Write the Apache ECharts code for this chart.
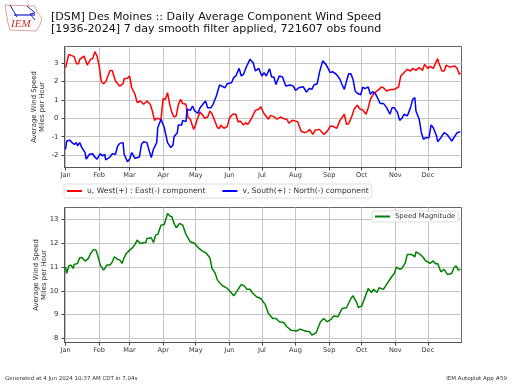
<!DOCTYPE html>
<html><head><meta charset="utf-8">
<style>html,body{margin:0;padding:0;background:#fff}#c{width:512px;height:384px}</style>
<script src="https://cdn.jsdelivr.net/npm/echarts@6/dist/echarts.min.js"></script>
</head><body><div id="c"></div>
<script>
const monthNames=['Jan','Feb','Mar','Apr','May','Jun','Jul','Aug','Sep','Oct','Nov','Dec'];
const monthDays=[1,32,60,91,121,152,182,213,244,274,305,335];
const topTicks=[-2,-1,0,1,2,3];
const bottomTicks=[8,9,10,11,12,13];

const uDays=[1,2,4,6,9,11,13,14,18,21,24,26,28,30,32,34,36,38,42,44,47,51,54,55,58,60,62,65,67,70,73,76,79,81,83,85,89,90,91,93,95,97,99,101,103,105,107,109,112,114,116,119,121,122,125,128,129,132,134,136,138,141,143,144,147,150,152,155,158,160,162,165,167,169,172,176,179,181,184,188,190,193,196,199,202,205,207,210,215,218,221,224,226,229,231,235,239,242,245,248,251,254,258,260,262,265,267,270,272,275,278,280,282,285,290,292,294,297,299,302,304,308,310,313,316,319,321,324,327,330,332,335,337,340,344,345,348,350,352,355,356,360,362,364,365];
const uValues=[2.75,2.78,3.47,3.42,3.35,2.97,2.97,3.2,3.38,2.89,3.2,3.25,3.62,3.38,2.84,1.99,1.88,1.99,2.6,2.6,2.03,1.74,1.88,2.15,2.17,2.3,1.66,1.3,.85,.94,.76,.94,.76,.4,-.11,0,-.05,.58,1.08,1.03,1.39,.76,.31,.07,.13,.76,1.03,.8,.76,.04,-.05,-.6,-.33,-.11,.34,.13,0,.07,.4,.25,-.05,-.51,-.54,-.36,-.54,-.45,0,.22,.22,-.2,-.14,-.36,-.24,-.33,-.05,.43,.49,.63,.25,-.05,.16,.09,-.05,.07,-.02,-.05,-.27,-.11,-.18,-.69,-.78,-.72,-.6,-.87,-.65,-.6,-.87,-.72,-.42,-.45,-.54,-.11,.22,-.33,-.29,.13,.49,.72,.52,.45,.22,.58,1.03,1.34,1.57,1.7,1.66,1.48,1.54,1.57,1.57,1.7,2.3,2.48,2.66,2.57,2.71,2.6,2.75,2.6,2.93,2.71,2.82,2.71,3.24,3.02,2.57,2.57,2.89,2.78,2.75,2.84,2.71,2.39,2.46];

const vDays=[1,2,5,7,9,11,12,14,16,19,20,23,26,27,30,33,35,37,38,42,44,47,49,51,54,55,58,60,62,65,66,69,71,73,76,78,80,82,85,86,89,90,92,95,98,100,101,104,105,108,109,112,113,116,118,120,123,125,127,130,132,135,137,140,143,145,148,150,154,156,158,161,163,165,168,171,174,176,179,182,184,186,189,191,193,195,198,201,204,208,211,213,216,220,223,226,228,230,233,235,238,241,243,245,247,248,250,252,254,256,258,260,262,264,266,268,270,273,275,277,280,282,284,287,290,291,294,297,300,302,304,307,309,311,313,316,319,321,323,324,327,329,331,333,336,338,340,343,344,347,350,353,357,362,365];
const vValues=[-1.68,-1.23,-1.19,-1.32,-1.41,-1.32,-1.5,-1.32,-1.59,-1.86,-2.22,-1.95,-1.92,-2.04,-2.22,-1.92,-2.04,-1.95,-2.26,-2.1,-1.92,-1.95,-1.5,-1.36,-1.32,-1.95,-2.35,-2.23,-1.86,-2.17,-2.23,-2.1,-1.41,-1.27,-1.32,-1.74,-2.13,-1.68,-1.32,-.51,-.05,0,-.51,-1.32,-1.59,-1.45,-1,-.78,-.36,-.36,-.11,-.18,.49,.43,.67,.4,.27,.58,.72,.94,.58,.58,.76,1.21,1.81,1.75,1.66,1.88,1.93,2.21,2.3,2.71,2.3,2.39,2.84,3.2,3.02,2.57,2.71,2.3,2.48,2.3,2.69,2.24,2.24,1.84,2.3,2.24,1.75,1.81,1.75,1.52,1.66,1.72,1.43,1.63,1.57,1.81,1.88,2.48,3.12,2.93,2.71,2.48,2.53,2.6,2.42,2.29,2.11,1.81,1.57,2.03,2.42,2.42,2.11,1.48,1.36,1.27,1.7,1.61,1.7,1.3,1.45,1.3,.94,.81,.81,.58,.22,.58,.58,.31,-.11,0,.22,.13,.58,1.03,1.12,.4,-.05,-.78,-1.14,-1.05,-1.05,-.36,-.51,-.96,-1.27,-1.05,-.78,-.9,-1.23,-.78,-.72];

const speedDays=[1,2,4,6,8,9,12,14,16,19,22,24,27,29,31,33,34,36,39,42,44,46,49,51,53,55,57,60,62,65,67,70,73,75,76,80,82,84,86,89,92,95,97,99,101,103,106,109,112,116,120,124,127,131,134,136,139,141,145,150,153,156,159,163,166,168,171,173,177,181,185,188,192,195,198,202,205,209,214,217,222,226,228,232,236,239,242,246,248,252,256,260,264,266,269,271,274,276,280,283,285,288,290,294,297,301,304,306,309,311,314,316,320,323,324,328,331,333,335,337,340,342,344,347,350,353,357,359,361,363,365];
const speedValues=[11.01,10.73,11.05,11.08,10.94,11.11,11.15,11.39,11.4,11.25,11.36,11.57,11.74,11.71,11.43,11.08,11.01,10.87,11.08,11.08,11.22,11.43,11.32,11.29,11.15,11.39,11.57,11.71,11.78,11.95,12.13,11.99,12.02,12.03,12.2,12.23,12.03,12.34,12.37,12.76,12.79,13.25,13.15,13.11,12.83,12.65,12.83,12.76,12.37,12.06,11.99,11.78,11.68,11.57,11.39,10.94,10.73,10.45,10.24,10.1,9.96,9.79,9.99,10.27,10.2,10.07,10.07,9.93,9.75,9.68,9.43,9.05,8.84,8.84,8.7,8.67,8.49,8.34,8.31,8.39,8.31,8.28,8.14,8.24,8.7,8.84,8.7,8.81,8.94,8.91,9.26,9.29,9.68,9.79,9.54,9.3,9.36,9.61,10.1,9.93,10.07,9.93,10.13,10.06,10.27,10.55,10.73,11,10.91,10.94,11.15,11.53,11.53,11.43,11.64,11.53,11.39,11.25,11.22,11.15,11.26,11.14,11.15,10.8,10.9,10.69,10.73,10.97,11.05,10.87,10.91];

const font='"DejaVu Sans"';
const cats=[];for(let d=0;d<=366;d++){const m=monthDays.indexOf(d);cats.push(m>=0?monthNames[m]:'');}
const isTick=i=>monthDays.includes(i);
const pair=(a,b)=>a.map((d,i)=>[d,b[i]]);
function xAxis(gi){return{type:'category',gridIndex:gi,data:cats,boundaryGap:false,
  axisLine:{show:true,onZero:false,lineStyle:{color:'#555',width:1}},
  axisTick:{show:true,interval:isTick,length:3,lineStyle:{color:'#444',width:1}},
  axisLabel:{show:true,interval:isTick,fontFamily:font,fontSize:6.6,color:'#333',margin:4,hideOverlap:false},
  splitLine:{show:true,interval:isTick,lineStyle:{color:'#c4c4c4',width:1}}};}
function yAxis(gi,min,max,ticks){return{type:'value',gridIndex:gi,min,max,
  name:'Average Wind Speed\nMiles per Hour',nameLocation:'middle',nameGap:gi?16.5:18.5,nameRotate:90,nameMoveOverlap:false,
  nameTextStyle:{fontFamily:font,fontSize:6.9,color:'#333',lineHeight:8},
  axisLine:{show:true,onZero:false,lineStyle:{color:'#555',width:1}},
  axisTick:{show:true,length:3,customValues:ticks,lineStyle:{color:'#444',width:1}},
  axisLabel:{fontFamily:font,fontSize:6.9,color:'#333',margin:6,customValues:ticks},
  splitLine:{show:true,lineStyle:{color:'#c4c4c4',width:1}}};}
const lbox={backgroundColor:'#fff',borderColor:'#ddd',borderWidth:1,borderRadius:2,
  textStyle:{fontFamily:font,fontSize:7.6,color:'#333'},itemWidth:15,itemHeight:2,icon:'rect'};
const option={animation:false,backgroundColor:'#fff',
 title:[
  {text:'[DSM] Des Moines :: Daily Average Component Wind Speed\n[1936-2024] 7 day smooth filter applied, 721607 obs found',left:51,top:11,padding:0,
   textStyle:{fontFamily:font,fontSize:11.1,fontWeight:'normal',color:'#111',lineHeight:12}},
  {text:'Generated at 4 Jun 2024 10:37 AM CDT in 7.04s',left:5,top:376,padding:0,textStyle:{fontFamily:font,fontSize:5.5,fontWeight:'normal',color:'#333'}},
  {text:'IEM Autoplot App #59',right:5,top:376,padding:0,textStyle:{fontFamily:font,fontSize:5.5,fontWeight:'normal',color:'#333'}}
 ],
 grid:[
  {left:64.5,top:46.5,width:397,height:121,show:true,borderColor:'#666',borderWidth:1,backgroundColor:'#fff'},
  {left:64.5,top:207.5,width:397,height:135,show:true,borderColor:'#666',borderWidth:1,backgroundColor:'#fff'}
 ],
 xAxis:[xAxis(0),xAxis(1)],
 yAxis:[yAxis(0,-2.67,3.9,topTicks),yAxis(1,7.83,13.5,bottomTicks)],
 legend:[
  Object.assign({},lbox,{data:['u, West(+) : East(-) component','v, South(+) : North(-) component'],left:64,top:184,padding:[3,3,3,3],itemGap:17}),
  Object.assign({},lbox,{data:['Speed Magnitude'],left:372,top:211,padding:[2,3,2,3],textStyle:{fontFamily:font,fontSize:6.9,color:'#333'}})
 ],
 series:[
  {name:'u, West(+) : East(-) component',type:'line',xAxisIndex:0,yAxisIndex:0,data:pair(uDays,uValues),showSymbol:false,symbol:'none',lineStyle:{color:'#ff0000',width:1.5},itemStyle:{color:'#ff0000'},z:3},
  {name:'v, South(+) : North(-) component',type:'line',xAxisIndex:0,yAxisIndex:0,data:pair(vDays,vValues),showSymbol:false,symbol:'none',lineStyle:{color:'#0000ff',width:1.5},itemStyle:{color:'#0000ff'},z:4},
  {name:'Speed Magnitude',type:'line',xAxisIndex:1,yAxisIndex:1,data:pair(speedDays,speedValues),showSymbol:false,symbol:'none',lineStyle:{color:'#008000',width:1.5},itemStyle:{color:'#008000'},z:3}
 ],
 graphic:[
  {type:'polygon',shape:{points:[[5,5],[35,6],[37,12],[42,18],[40,25],[36,31],[10,30],[8,23]]},style:{fill:'#fff',stroke:'#e0a0a0',lineWidth:1}},
  {type:'polyline',shape:{points:[[10,5],[17,17]]},style:{stroke:'#1a1ac8',fill:'none',lineWidth:1}},
  {type:'polyline',shape:{points:[[14,15],[35,15]]},style:{stroke:'#1a1ac8',fill:'none',lineWidth:1.2}},
  {type:'polyline',shape:{points:[[27,6],[35,13],[30,14],[35,20]]},style:{stroke:'#1a1ac8',fill:'none',lineWidth:1}},
  {type:'text',left:11,top:18.5,style:{text:'IEM',fontFamily:'"Liberation Serif"',fontStyle:'italic',fontSize:11,fill:'#c83030'}}
 ]
};
echarts.init(document.getElementById('c'),null,{renderer:'canvas'}).setOption(option);
</script></body></html>
